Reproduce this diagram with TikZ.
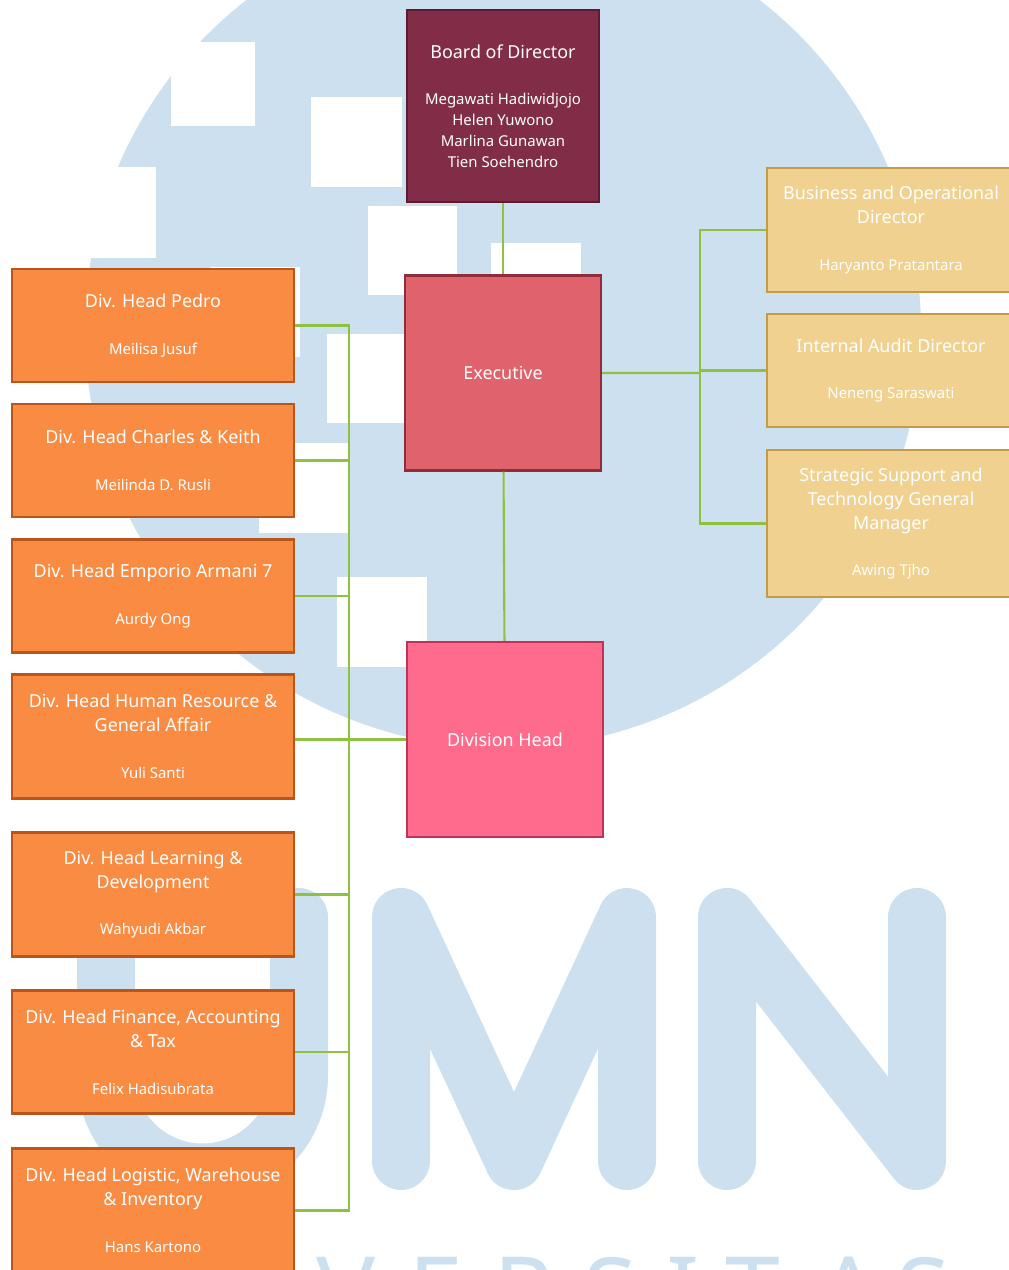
\documentclass[tikz,border=0pt]{standalone}
\usepackage{fontspec}
\setmainfont{Noto Sans}
\usepackage{xcolor}
\definecolor{markblue}{HTML}{CDE0EF}
\definecolor{linkgreen}{HTML}{8DC13F}
\definecolor{bodfill}{HTML}{812D48}
\definecolor{boddraw}{HTML}{5E1A30}
\definecolor{execfill}{HTML}{E0626C}
\definecolor{execdraw}{HTML}{8E2E3A}
\definecolor{headfill}{HTML}{FE6B8D}
\definecolor{headdraw}{HTML}{C03358}
\definecolor{dirfill}{HTML}{F0D190}
\definecolor{dirdraw}{HTML}{C49C45}
\definecolor{divfill}{HTML}{F98B43}
\definecolor{divdraw}{HTML}{B8561E}
\newcommand{\titlefont}{\fontsize{10.2}{13.6}\selectfont}
\newcommand{\namefont}{\fontsize{8.5}{11.9}\selectfont}

\begin{document}
\begin{tikzpicture}[node distance=2.71cm, line width=1.3pt,
    base node/.style={rectangle,draw,text=white,align=center,inner sep=2pt,font=\titlefont},
    lead node/.style={base node,minimum width=3.92cm,minimum height=3.9cm},
    dir node/.style={base node,fill=dirfill,draw=dirdraw,minimum width=4.96cm},
    div node/.style={base node,fill=divfill,draw=divdraw,minimum width=5.64cm},
    link/.style={draw=linkgreen,line width=1.2pt}]

    \useasboundingbox (0,0) rectangle (20.18,-25.4);
    \clip (0,0) rectangle (20.18,-25.4);

    % watermark
    \fill[markblue] (10.06,-6.6) circle (8.36);
    \fill[white] (3.42,-0.84) rectangle (5.10,-2.52);
    \fill[white] (1.2,-3.34) rectangle (3.12,-5.16);
    \fill[white] (6.22,-1.94) rectangle (8.04,-3.74);
    \fill[white] (7.36,-4.12) rectangle (9.14,-5.9);
    \fill[white] (9.82,-4.86) rectangle (11.62,-6.66);
    \fill[white] (4.2,-5.34) rectangle (6.0,-7.14);
    \fill[white] (6.54,-6.68) rectangle (8.34,-8.46);
    \fill[white] (5.18,-8.86) rectangle (6.96,-10.66);
    \fill[white] (6.74,-11.54) rectangle (8.54,-13.34);
    \begin{scope}[draw=markblue,line width=1.16cm,line cap=round,line join=round]
        \draw (2.12,-18.34) -- (2.12,-21.52) arc[start angle=180,end angle=360,radius=1.93] -- (5.98,-18.34);
        \draw (8.02,-23.22) -- (8.02,-18.34) -- (10.28,-23.22) -- (12.54,-18.34) -- (12.54,-23.22);
        \draw (14.54,-23.22) -- (14.54,-18.34) -- (18.34,-23.22) -- (18.34,-18.34);
    \end{scope}
    \foreach \ch/\x in {V/6.92,E/8.72,R/10.48,S/12.22,I/13.66,T/15.06,A/16.98,S/18.48}
        \node[anchor=north,inner sep=0pt,text=markblue,font=\fontsize{56}{60}\selectfont\bfseries] (mark\x) at (\x,-25.12) {\ch};

    % top line
    \node[lead node,fill=bodfill,draw=boddraw,minimum width=3.84cm,minimum height=3.84cm] (bod) at (10.06,-2.12)
        {Board of Director\\[13pt]\namefont Megawati Hadiwidjojo\\[-1.7pt]\namefont Helen Yuwono\\[-1.7pt]\namefont Marlina Gunawan\\[-1.7pt]\namefont Tien Soehendro};
    \node[lead node,fill=execfill,draw=execdraw,node distance=5.34cm] (exec) [below of = bod] {Executive};
    \node[lead node,fill=headfill,draw=headdraw,node distance=7.33cm,xshift=0.04cm] (divhead) [below of = exec] {Division Head};

    % directors
    \node[dir node,minimum height=2.48cm] (biz) at (17.82,-4.6)
        {Business and Operational\\Director\\[13pt]\namefont Haryanto Pratantara};
    \node[dir node,minimum height=2.26cm,node distance=2.81cm] (audit) [below of = biz]
        {Internal Audit Director\\[13pt]\namefont Neneng Saraswati};
    \node[dir node,minimum height=2.94cm,node distance=3.06cm] (strat) [below of = audit]
        {Strategic Support and\\Technology General\\Manager\\[13pt]\namefont Awing Tjho};

    % division heads
    \node[div node,minimum height=2.26cm] (pedro) at (3.06,-6.51)
        {Div. Head Pedro\\[13pt]\namefont Meilisa Jusuf};
    \node[div node,minimum height=2.26cm,node distance=2.7cm] (charles) [below of = pedro]
        {Div. Head Charles \& Keith\\[13pt]\namefont Meilinda D. Rusli};
    \node[div node,minimum height=2.26cm] (emporio) [below of = charles]
        {Div. Head Emporio Armani 7\\[13pt]\namefont Aurdy Ong};
    \node[div node,minimum height=2.48cm,node distance=2.81cm] (hr) [below of = emporio]
        {Div. Head Human Resource \&\\General Affair\\[13pt]\namefont Yuli Santi};
    \node[div node,minimum height=2.48cm,node distance=3.16cm] (learning) [below of = hr]
        {Div. Head Learning \&\\Development\\[13pt]\namefont Wahyudi Akbar};
    \node[div node,minimum height=2.46cm,node distance=3.15cm] (finance) [below of = learning]
        {Div. Head Finance, Accounting\\\& Tax\\[13pt]\namefont Felix Hadisubrata};
    \node[div node,minimum height=2.48cm,node distance=3.17cm] (logistic) [below of = finance]
        {Div. Head Logistic, Warehouse\\\& Inventory\\[13pt]\namefont Hans Kartono};

    % connectors
    \coordinate (rbus) at (14,-7.46);
    \coordinate (lbus) at (6.98,-14.8);
    \path[link]
        (bod) edge (exec)
        (exec) edge (divhead)
    ;
    \draw[link] (exec.east) -- (rbus);
    \foreach \n in {biz,audit,strat}
        \draw[link] (rbus) |- (\n.west);
    \draw[link] (divhead.west) -- (divhead.west -| hr.east);
    \foreach \n in {pedro,charles,emporio,learning,finance,logistic}
        \draw[link] (\n.east) -| (lbus);
\end{tikzpicture}
\end{document}
